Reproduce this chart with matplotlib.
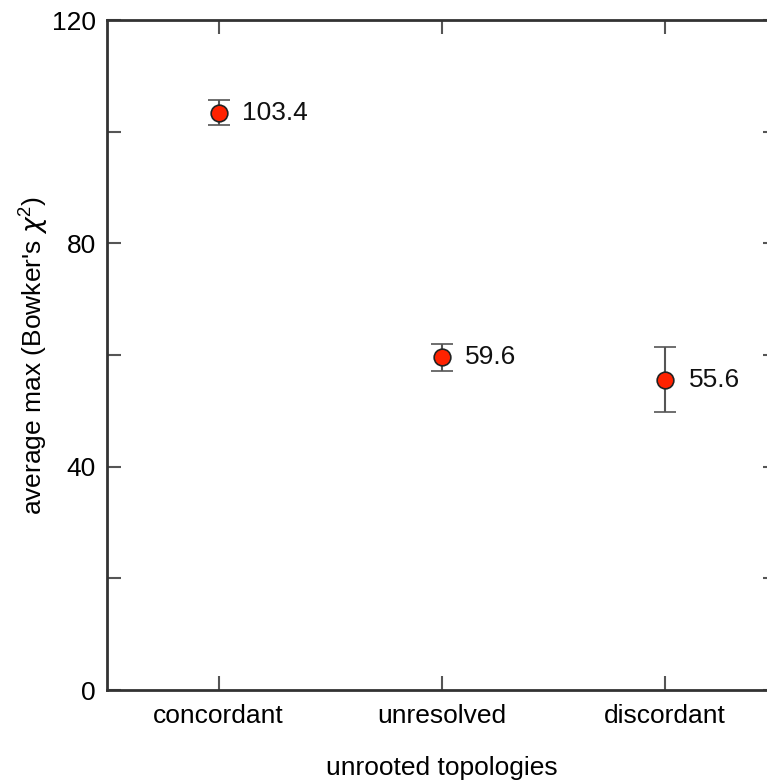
import matplotlib.pyplot as plt
from matplotlib.ticker import MultipleLocator

# data
categories = ["concordant", "unresolved", "discordant"]
means = [103.4, 59.6, 55.6]
err_low = [2.2, 2.4, 5.8]
err_high = [2.3, 2.4, 5.9]
value_labels = ["103.4", "59.6", "55.6"]

plt.rcParams['font.family'] = ['Liberation Sans', 'DejaVu Sans']
plt.rcParams['mathtext.fontset'] = 'custom'
plt.rcParams['mathtext.rm'] = 'Liberation Sans'
plt.rcParams['mathtext.it'] = 'DejaVu Sans:italic'

fig = plt.figure(figsize=(7.67, 7.80), dpi=100)
# axes box runs a little past the right edge of the picture, as in the reference
ax = fig.add_axes([107 / 767, 90 / 780, 669.5 / 767, 670 / 780])

xs = list(range(1, len(categories) + 1))
ax.errorbar(xs, means, yerr=[err_low, err_high], fmt='o', color='#555555',
            ecolor='#555555', elinewidth=1.5, capsize=8, capthick=1.5,
            markersize=12, markerfacecolor='#ff2200', markeredgecolor='#222222',
            markeredgewidth=1.2, zorder=3)

for x, y, lbl in zip(xs, means, value_labels):
    ax.annotate(lbl, (x, y), xytext=(17, 0), textcoords='offset points',
                ha='left', va='center', fontsize=19, color='#111111')

ax.set_xlim(0.5, 3.5)
ax.set_ylim(0, 120)
ax.set_xticks(xs)
ax.set_xticklabels(categories, fontsize=19)
ax.yaxis.set_major_locator(MultipleLocator(40))
ax.yaxis.set_minor_locator(MultipleLocator(20))
ax.tick_params(axis='both', which='both', direction='in', length=10, width=1.5,
               color='#555555', top=True, right=True, labelsize=19, pad=8)
ax.tick_params(axis='x', pad=10)

for sp in ax.spines.values():
    sp.set_color('#333333')
    sp.set_linewidth(2)

ax.set_xlabel("unrooted topologies", fontsize=19, labelpad=20)
ax.set_ylabel("average max (Bowker's $\\mathit{\\chi}^2$)", fontsize=19, labelpad=1)

fig.savefig("out.png", dpi=100)
